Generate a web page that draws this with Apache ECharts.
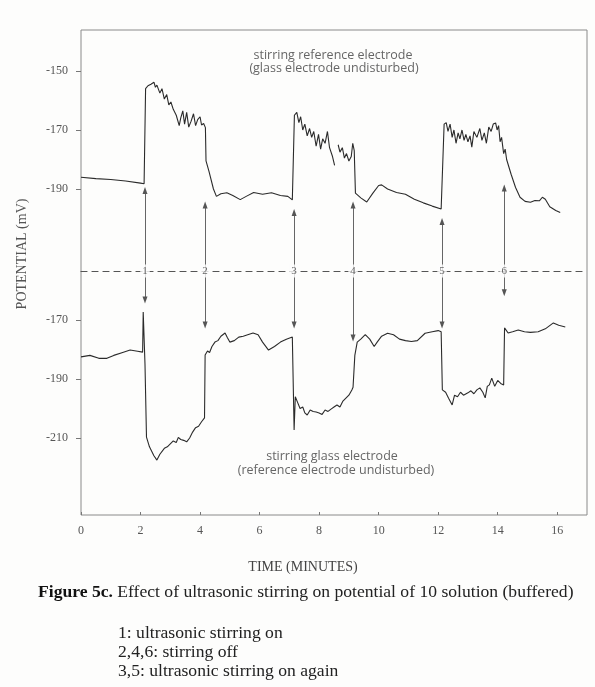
<!DOCTYPE html>
<html>
<head>
<meta charset="utf-8">
<script src="https://cdn.jsdelivr.net/npm/echarts@6/dist/echarts.min.js"></script>
<style>
html,body{margin:0;padding:0;background:#fdfdfc;}
#chart{width:595px;height:687px;}
</style>
</head>
<body>
<div id="chart"></div>
<script>
// ---- data (time in minutes, potential in mV) ----
const timeTicks = [0, 2, 4, 6, 8, 10, 12, 14, 16];
const topTicks = [-150, -170, -190];
const bottomTicks = [-170, -190, -210];

// stirring reference electrode (glass electrode undisturbed)
const referenceStirred = [
  [0,-186],[0.5,-186.5],[1,-186.8],[1.5,-187.3],[2.0,-188],[2.12,-188.2],
  [2.17,-156],[2.25,-155],[2.35,-154.5],[2.45,-153.8],[2.5,-155.5],[2.55,-154.8],[2.65,-157.5],[2.72,-156],
  [2.8,-159.5],[2.88,-158],[2.95,-161.5],[3.02,-160.5],[3.1,-163],[3.2,-165],[3.3,-168.5],[3.35,-166],
  [3.42,-163.5],[3.48,-168],[3.55,-164],[3.62,-169],[3.7,-167],[3.78,-164.5],[3.85,-168.5],[3.92,-166.5],
  [4.0,-165.5],[4.05,-168.3],[4.12,-167.8],[4.18,-169.2],
  [4.2,-180.5],[4.3,-184],[4.45,-190],[4.55,-192.5],[4.7,-191.6],[4.9,-191.3],[5.1,-192.2],[5.35,-193.6],
  [5.55,-192.5],[5.8,-191.2],[6.1,-191.8],[6.4,-191.3],[6.7,-192.2],[6.95,-192.5],[7.1,-193.7],
  [7.17,-165],[7.25,-164],[7.32,-167.5],[7.38,-165.5],[7.45,-170],[7.52,-168],[7.6,-172],[7.68,-169.5],
  [7.75,-172.5],[7.82,-170.5],[7.9,-175.5],[7.98,-171.5],[8.05,-176.5],[8.12,-173],[8.2,-174.5],[8.28,-170.5],
  [8.35,-176],[8.45,-179],[8.52,-182],
  [8.58,null],
  [8.64,-175],[8.7,-177.5],[8.78,-176],[8.85,-179.5],[8.92,-178],[9.0,-180.5],[9.08,-179],[9.13,-174.5],[9.18,-177],
  [9.22,-191.4],[9.4,-193],[9.6,-194.4],[9.8,-191.5],[10.0,-188.8],[10.1,-188.6],[10.3,-190],[10.6,-191.2],
  [10.9,-191.8],[11.2,-193.5],[11.5,-194.7],[11.8,-195.8],[12.1,-196.8],[12.15,-197],
  [12.2,-168],[12.27,-167.5],[12.33,-170.5],[12.4,-168],[12.47,-172.5],[12.53,-170],[12.6,-174.5],[12.67,-171],
  [12.73,-173],[12.8,-170],[12.87,-173.5],[12.93,-171.5],[13.0,-174],[13.07,-172],[13.13,-175.8],[13.2,-170.5],
  [13.3,-172.5],[13.4,-169.5],[13.47,-173.5],[13.55,-171],[13.62,-174.5],[13.7,-169],[13.78,-170.5],[13.85,-168],
  [13.93,-167.6],[13.98,-170],[14.03,-168.5],[14.08,-174],[14.13,-172.5],[14.2,-178],[14.25,-176.5],[14.3,-180],
  [14.45,-185],[14.6,-189.5],[14.75,-192.8],[14.92,-194.2],[15.1,-194.5],[15.25,-193.9],[15.4,-194],[15.5,-192.8],
  [15.6,-193.5],[15.75,-196],[15.95,-197.3],[16.1,-198]
];

// stirring glass electrode (reference electrode undisturbed)
const glassStirred = [
  [0,-182.5],[0.3,-182],[0.6,-183],[0.87,-183],[1.1,-182],[1.4,-181],[1.65,-180.2],[1.9,-180.6],[2.07,-180.9],
  [2.09,-167.3],[2.15,-185],[2.2,-209.7],[2.3,-213],[2.45,-216],[2.55,-217.5],[2.65,-215.5],[2.8,-213.5],
  [2.9,-213],[3.0,-212],[3.1,-211],[3.2,-211.5],[3.27,-209.8],[3.35,-210.5],[3.45,-210.8],[3.55,-211.3],
  [3.65,-210],[3.75,-208],[3.85,-206.5],[3.95,-206],[4.05,-204.5],[4.15,-203.2],
  [4.17,-181.9],[4.25,-180.5],[4.32,-181],[4.4,-179],[4.5,-177.5],[4.6,-177],[4.7,-175.5],[4.84,-174.4],
  [4.92,-176],[5.0,-177.5],[5.15,-177],[5.3,-175.8],[5.45,-175.5],[5.6,-175],[5.78,-174.4],[5.95,-175],
  [6.1,-177.5],[6.3,-180.2],[6.5,-179],[6.7,-177.5],[6.9,-176.5],[7.1,-175.8],[7.14,-176],
  [7.16,-207.3],[7.2,-196],[7.28,-198],[7.36,-200],[7.45,-199.5],[7.52,-201.5],[7.6,-202.2],[7.7,-200.5],
  [7.8,-201],[7.9,-201.2],[8.0,-201.5],[8.1,-202],[8.2,-200.5],[8.3,-201],[8.4,-200.2],[8.5,-199.5],
  [8.6,-198.8],[8.7,-199.5],[8.8,-197.5],[8.9,-196.5],[9.0,-195.5],[9.1,-193.7],[9.14,-192.8],
  [9.2,-182],[9.28,-177.5],[9.4,-176.5],[9.55,-175],[9.7,-176.5],[9.85,-179],[9.95,-177.5],[10.1,-175.5],
  [10.3,-174.5],[10.5,-175],[10.7,-176.5],[10.9,-177],[11.1,-177.3],[11.3,-177],[11.56,-174.5],[11.8,-174],
  [12.0,-173.6],[12.1,-174],
  [12.14,-193.7],[12.25,-194.5],[12.35,-196.5],[12.47,-198.8],[12.55,-195.5],[12.65,-196],[12.75,-194.5],
  [12.85,-195.5],[13.0,-194.7],[13.1,-194],[13.2,-195],[13.3,-193.7],[13.4,-193],[13.5,-194.5],[13.58,-196.4],
  [13.65,-192.5],[13.72,-192],[13.8,-189.7],[13.9,-192.5],[14.0,-190.5],[14.1,-191.5],[14.2,-192],
  [14.23,-172.7],[14.35,-174.4],[14.5,-174],[14.69,-173.4],[14.9,-174],[15.1,-174.2],[15.36,-174],
  [15.6,-173],[15.87,-171],[16.05,-171.8],[16.27,-172.4]
];

// events: 1 stirring on, 2/4/6 off, 3/5 on again
const eventTimes  = [2.15, 4.17, 7.16, 9.14, 12.13, 14.22];
const eventNames  = ['1', '2', '3', '4', '5', '6'];
const arrowTopTip = [-190.5, -195.4, -198, -195.4, -201, -189.7];
const arrowBotTip = [-163.2, -171.7, -171.7, -176.1, -171.7, -160.8];

// ---- layout ----
const TOP_MIN = -217.8, TOP_MAX = -136.1;
const BOT_MIN = -236.1, BOT_MAX = -153.4;
const T_MAX = 17;
const INK = '#2b2b2b', GREY = '#555', SERIF = 'Liberation Serif', BG = '#fdfdfc';
const ANNO_FONT = '12.5px "Open Sans"';
const CAP_FONT = '17.6px "Liberation Serif"';

const chart = echarts.init(document.getElementById('chart'), null, {renderer: 'canvas'});

const arrowLines = (tips, from) => eventTimes.map((t, i) => [
  {coord: [t, from]},
  {coord: [t, tips[i]]}
]);

const option = {
  animation: false,
  backgroundColor: BG,
  grid: [
    {left: 81, right: 8, top: 30, height: 241},
    {left: 81, right: 8, top: 271, height: 244},
    {left: 81, right: 8, top: 30, height: 485, show: true, borderColor: '#8a8a8a', borderWidth: 1, backgroundColor: 'transparent'}
  ],
  xAxis: [
    {gridIndex: 0, type: 'value', min: 0, max: T_MAX, position: 'bottom',
     axisLine: {show: true, lineStyle: {color: '#555', type: [6, 5], width: 1.2}},
     axisTick: {show: false}, axisLabel: {show: false}, splitLine: {show: false}},
    {gridIndex: 1, type: 'value', min: 0, max: T_MAX,
     axisLine: {show: false},
     axisTick: {show: true, inside: true, length: 3, customValues: timeTicks, lineStyle: {color: '#777'}},
     axisLabel: {customValues: timeTicks, margin: 10, color: GREY, fontFamily: SERIF, fontSize: 12},
     splitLine: {show: false}},
    {gridIndex: 2, type: 'value', min: 0, max: 1, show: false}
  ],
  yAxis: [
    {gridIndex: 0, type: 'value', min: TOP_MIN, max: TOP_MAX,
     axisLine: {show: false},
     axisTick: {show: true, length: 5, customValues: topTicks, lineStyle: {color: '#777'}},
     axisLabel: {customValues: topTicks, margin: 13, color: GREY, fontFamily: SERIF, fontSize: 12},
     splitLine: {show: false}},
    {gridIndex: 1, type: 'value', min: BOT_MIN, max: BOT_MAX,
     axisLine: {show: false},
     axisTick: {show: true, length: 5, customValues: bottomTicks, lineStyle: {color: '#777'}},
     axisLabel: {customValues: bottomTicks, margin: 13, color: GREY, fontFamily: SERIF, fontSize: 12},
     splitLine: {show: false}},
    {gridIndex: 2, type: 'value', min: 0, max: 1, show: false}
  ],
  series: [
    {type: 'line', xAxisIndex: 0, yAxisIndex: 0, data: referenceStirred, showSymbol: false, symbol: 'none',
     connectNulls: false, lineStyle: {color: INK, width: 1.1}, silent: true, z: 2,
     markLine: {silent: true, symbol: ['none', 'triangle'], symbolSize: [5, 7], label: {show: false}, z: 1,
       lineStyle: {color: '#555', width: 0.9, type: 'solid'}, data: arrowLines(arrowTopTip, TOP_MIN)}},
    {type: 'line', xAxisIndex: 1, yAxisIndex: 1, data: glassStirred, showSymbol: false, symbol: 'none',
     lineStyle: {color: INK, width: 1.1}, silent: true, z: 2,
     markLine: {silent: true, symbol: ['none', 'triangle'], symbolSize: [5, 7], label: {show: false}, z: 1,
       lineStyle: {color: '#555', width: 0.9, type: 'solid'}, data: arrowLines(arrowBotTip, BOT_MAX)}},
    {type: 'scatter', xAxisIndex: 0, yAxisIndex: 0, silent: true, symbolSize: 1, z: 20, zlevel: 1,
     itemStyle: {color: 'transparent'},
     data: eventTimes.map((t, i) => ({value: [t, TOP_MIN], name: eventNames[i]})),
     label: {show: true, position: 'inside', formatter: p => p.name, color: '#444', fontFamily: SERIF,
       fontSize: 11, backgroundColor: BG, padding: [1, 2]}}
  ],
  graphic: [
    {type: 'text', x: 333, y: 55, style: {text: 'stirring reference electrode', align: 'center', verticalAlign: 'middle', fill: '#666', font: ANNO_FONT}},
    {type: 'text', x: 334, y: 68, style: {text: '(glass electrode undisturbed)', align: 'center', verticalAlign: 'middle', fill: '#666', font: ANNO_FONT}},
    {type: 'text', x: 332, y: 456, style: {text: 'stirring glass electrode', align: 'center', verticalAlign: 'middle', fill: '#666', font: ANNO_FONT}},
    {type: 'text', x: 336, y: 470, style: {text: '(reference electrode undisturbed)', align: 'center', verticalAlign: 'middle', fill: '#666', font: ANNO_FONT}},
    {type: 'text', x: 22, y: 254, rotation: Math.PI / 2, style: {text: 'POTENTIAL (mV)', align: 'center', verticalAlign: 'middle', fill: '#555', font: '14px "Liberation Serif"'}},
    {type: 'text', x: 303, y: 567, style: {text: 'TIME (MINUTES)', align: 'center', verticalAlign: 'middle', fill: '#444', font: '14px "Liberation Serif"'}},
    {type: 'text', x: 38, y: 592, style: {
      text: '{b|Figure 5c.} Effect of ultrasonic stirring on potential of 10 solution (buffered)',
      verticalAlign: 'middle', fill: '#222', font: CAP_FONT,
      rich: {b: {fontWeight: 'bold', fontFamily: SERIF, fontSize: 17.6, fill: '#111'}}}},
    {type: 'text', x: 118, y: 633, style: {text: '1: ultrasonic stirring on', verticalAlign: 'middle', fill: '#222', font: CAP_FONT}},
    {type: 'text', x: 118, y: 652, style: {text: '2,4,6: stirring off', verticalAlign: 'middle', fill: '#222', font: CAP_FONT}},
    {type: 'text', x: 118, y: 671, style: {text: '3,5: ultrasonic stirring on again', verticalAlign: 'middle', fill: '#222', font: CAP_FONT}}
  ]
};
chart.setOption(option);
</script>
</body>
</html>
